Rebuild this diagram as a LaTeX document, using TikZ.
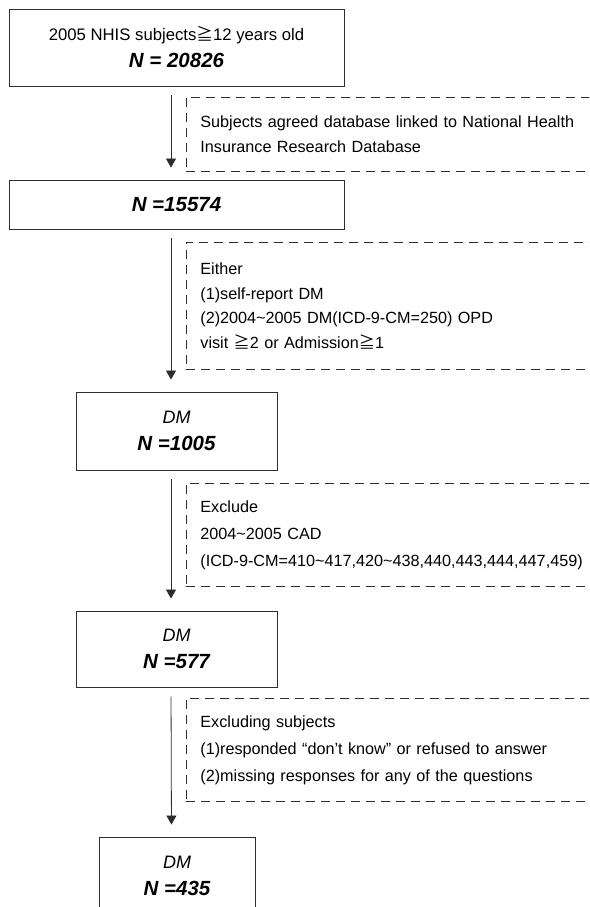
\documentclass[tikz,border=0pt]{standalone}
\usepackage{fontspec}
\setmainfont{Liberation Sans}
\newfontfamily\cjkfont{Noto Sans CJK TC}
\usepackage{tikz}
\usetikzlibrary{arrows.meta,positioning}
\definecolor{linegray}{RGB}{45,45,45}
\newcommand{\geqsign}{{\cjkfont ≧}}
\newcommand{\tld}{\textasciitilde}
\newcommand{\nval}[1]{{\fontsize{20.5}{27}\selectfont\bfseries\itshape #1}}
\newcommand{\dmlabel}{{\fontsize{18}{27}\selectfont\itshape DM}}

\begin{document}
\begin{tikzpicture}[x=1pt,y=-1pt,
  stage/.style={draw=linegray,line width=0.9pt,align=center,inner sep=0pt,
    font=\fontsize{16.7}{27}\selectfont},
  note/.style={draw=linegray,line width=0.8pt,dash pattern=on 9pt off 6pt,
    anchor=north west,text width=392pt,inner xsep=14pt,inner ysep=0pt,align=left,
    font=\fontsize{16.2}{24.5}\selectfont},
  flow/.style={draw=linegray,line width=0.8pt,-{Triangle[width=10pt,length=9pt]},
    shorten <=9pt,shorten >=12pt}]
  \clip (0,0) rectangle (589,907);
  % Main stages
  \node[stage,minimum width=335pt,minimum height=77pt] (b1) at (176.5,47.5)
    {2005 NHIS subjects\geqsign12 years old\\ \nval{N = 20826}};
  \node[stage,minimum width=335pt,minimum height=49pt] (b2) at (176.5,204.5)
    {\nval{N =15574}};
  \node[stage,minimum width=201pt,minimum height=78pt] (b3) at (176.5,431)
    {\dmlabel\\ \nval{N =1005}};
  \node[stage,minimum width=201pt,minimum height=76pt] (b4) at (176.5,649)
    {\dmlabel\\ \nval{N =577}};
  \node[stage,minimum width=156pt,minimum height=78pt] (b5) at (177,876)
    {\dmlabel\\ \nval{N =435}};
  % Selection criteria
  \node[note,minimum height=74pt] (n1) at (186,97)
    {Subjects agreed database linked to National Health\\
     Insurance Research Database};
  \node[note,minimum height=127pt] (n2) at (186,242)
    {Either\\ (1)self-report DM\\
     (2)2004\tld2005 DM(ICD-9-CM=250) OPD\\
     visit \geqsign2 or Admission\geqsign1};
  \node[note,minimum height=103pt,font=\fontsize{16.2}{27}\selectfont] (n3) at (186,483)
    {Exclude\\ 2004\tld2005 CAD\\
     (ICD-9-CM=410\tld417,420\tld438,440,443,444,447,459)};
  \node[note,minimum height=103pt,font=\fontsize{16.2}{27}\selectfont] (n4) at (186,698)
    {Excluding subjects\\
     (1)responded “don’t know” or refused to answer\\
     (2)missing responses for any of the questions};
  % Arrows
  \foreach \a/\b in {b1/b2,b2/b3,b3/b4,b4/b5}{
    \draw[flow] ([xshift=-5.5pt]\a.south) -- ([xshift=-5.5pt]\b.north);
  }
\end{tikzpicture}
\end{document}
